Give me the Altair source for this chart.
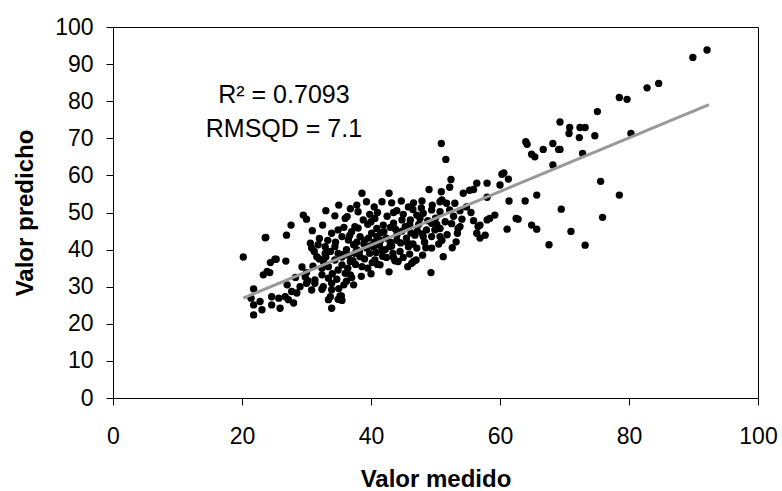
import altair as alt
import pandas as pd

measured = [
    20.2, 89.9, 92.1, 82.8, 84.6, 78.5, 79.7, 75.1, 80.3, 74.7,
    70.8, 72.4, 73.2, 70.7, 72.3, 69.3, 72.8, 69.3,
    75.6, 78.5, 69.5, 75.9, 71.0, 73.2,
    50.9, 51.6, 64.0, 64.2, 68.2, 69.1, 66.7, 64.9, 65.4, 68.2,
    60.3, 60.6, 61.3, 60.0, 58.0, 56.4, 55.9, 55.3, 52.4, 52.2, 50.9, 49.0, 54.3, 42.8, 58.0, 61.4, 63.9, 65.7,
    67.6, 64.9, 65.7, 62.8, 62.5, 61.1, 59.2, 58.4, 58.0, 55.9, 56.6, 56.4, 56.9, 57.7, 54.1, 53.8, 53.4, 53.2,
    51.2, 49.4, 49.3, 46.3, 45.7,
    51.0, 47.9, 46.6, 44.7, 43.2, 53.0, 41.7, 50.7, 51.7, 56.9, 53.5, 46.6, 45.0, 43.7, 42.4, 41.4, 40.6,
    49.4, 50.7, 48.1, 47.1, 45.8, 44.5, 42.9, 41.7, 40.4, 40.9, 42.4, 44.0, 45.5, 46.8, 48.6, 49.9, 50.7,
    49.4, 47.6, 46.1, 44.8, 43.5, 41.9, 40.6, 40.9, 49.4, 50.7, 52.2, 48.1, 47.1,
    23.6, 26.9, 27.6, 29.5, 30.0, 30.9, 32.5, 34.4, 36.0, 38.6, 39.3, 37.5, 38.8, 25.1, 24.4, 26.8,
    23.9, 23.3, 21.8, 29.3, 29.8, 30.2, 30.0, 30.6, 30.8, 31.6, 32.9, 32.4, 31.3, 32.4, 33.4, 33.9,
    35.4, 34.9, 21.4, 21.8, 21.8, 23.1, 22.8, 24.6, 25.7, 26.7, 27.2, 25.9, 24.6, 28.0, 27.7, 28.5,
    29.0, 30.8, 32.4, 33.4, 33.9, 34.7, 31.3, 33.9,
    31.8, 32.9, 33.7, 34.4, 34.4, 35.5, 36.8, 36.0, 34.9, 33.4, 33.9, 35.5, 34.9, 36.5, 37.3, 37.5,
    38.3, 39.3, 39.6, 40.1, 38.3, 37.0, 38.6, 36.8, 34.9, 32.6, 35.2, 35.5,
    36.5, 37.8, 38.9, 39.8, 40.5, 41.3, 42.0, 43.0, 43.8, 44.6, 45.3, 46.2, 47.4, 48.3, 39.0, 40.2,
    41.8, 43.4, 44.2, 37.2, 36.2, 35.5, 38.0, 39.5, 42.5, 44.0, 45.0, 46.5, 41.0, 39.8, 38.0, 36.8,
    35.0, 33.0, 50.0, 51.5, 52.5, 51.8, 52.6, 50.5, 48.0, 47.0, 42.8, 40.0, 38.5, 37.3, 36.2, 35.0,
    32.6, 33.7, 24.3, 25.3, 23.7,
    31.0, 32.0, 33.0, 35.8, 36.4, 37.6, 38.2, 39.0, 39.9, 40.8, 41.5, 42.2, 43.2, 44.0, 44.8, 45.6,
    46.5, 47.2, 48.0, 48.8, 46.0, 43.0, 41.5, 40.0, 37.8, 36.7, 35.8, 34.5, 33.3, 32.0, 31.2, 36.3,
    37.8, 40.5, 43.5, 45.8, 47.8, 49.5, 52.8, 53.8, 54.8, 55.5, 50.2, 51.0, 48.5, 46.0, 43.5, 41.0,
    39.5, 37.0, 35.8, 34.0, 30.0, 28.3, 27.0,
]
predicted = [
    38.0, 91.8, 93.8, 83.6, 84.8, 81.0, 80.5, 77.2, 71.3, 70.7,
    72.9, 72.9, 72.9, 71.3, 70.2, 74.4, 65.9, 67.0,
    58.4, 54.7, 50.9, 48.7, 44.9, 41.2,
    68.6, 64.3, 69.1, 68.4, 68.6, 67.0, 67.0, 65.7, 65.0, 62.8,
    60.3, 60.7, 59.0, 57.4, 57.9, 57.9, 56.2, 56.0, 58.9, 56.8, 55.6, 56.2, 55.2, 55.2, 54.1, 53.1, 53.1, 54.7,
    41.3, 46.6, 45.5, 48.2, 48.4, 45.5, 49.3, 48.4, 48.0, 47.8, 46.2, 44.4, 43.1, 43.9, 48.2, 46.2, 44.4, 42.1,
    38.1, 40.4, 33.8, 36.3, 35.4,
    53.4, 53.1, 52.6, 53.1, 52.6, 52.5, 52.9, 52.9, 52.5, 46.6, 45.7, 36.8, 37.9, 37.0, 37.9, 35.9, 37.2,
    43.5, 43.5, 43.5, 40.4, 40.8, 39.5, 40.8, 39.9, 40.8, 43.5, 43.1, 43.9, 43.1, 43.9, 45.3, 45.3, 45.7,
    47.1, 48.4, 48.0, 48.0, 47.1, 46.6, 48.4, 45.7, 50.7, 50.2, 50.7, 49.8, 49.3,
    43.2, 43.9, 46.6, 49.3, 48.2, 45.1, 46.6, 49.1, 48.4, 55.2, 52.9, 46.2, 48.0, 37.4, 36.5, 36.9,
    34.1, 33.2, 29.4, 35.3, 32.6, 31.6, 30.9, 41.7, 40.4, 38.1, 39.0, 35.0, 31.8, 29.3, 26.5, 24.2,
    27.5, 26.6, 26.9, 25.1, 22.4, 23.8, 26.0, 27.3, 26.9, 27.3, 26.5, 24.2, 25.1, 25.6, 28.7, 28.3,
    30.0, 29.1, 33.2, 32.3, 30.9, 32.0, 30.9, 29.2,
    41.3, 40.8, 39.5, 40.8, 37.2, 35.9, 36.8, 33.6, 34.5, 35.4, 44.4, 43.5, 45.3, 42.6, 41.3, 39.0,
    38.1, 40.4, 43.1, 44.4, 43.5, 44.8, 35.4, 33.2, 39.0, 36.8, 27.5, 26.3,
    38.5, 40.0, 41.5, 39.0, 42.0, 41.2, 44.8, 42.0, 45.5, 41.8, 46.2, 44.5, 46.8, 42.0, 37.5, 36.5,
    38.2, 39.0, 36.8, 37.0, 40.0, 38.0, 45.8, 46.8, 49.0, 50.5, 49.5, 50.8, 50.0, 49.5, 50.2, 51.0,
    52.0, 50.5, 48.5, 47.5, 47.0, 44.0, 40.5, 41.5, 38.5, 37.2, 34.0, 33.5, 32.8, 30.5, 31.5, 29.5,
    30.0, 27.3, 33.8, 37.4, 43.3,
    35.5, 37.5, 38.0, 38.8, 35.0, 36.0, 39.5, 42.5, 41.0, 39.2, 42.5, 40.0, 41.0, 42.5, 45.0, 42.0,
    41.5, 45.0, 44.2, 47.8, 46.8, 46.0, 44.5, 47.5, 42.0, 43.8, 46.0, 42.0, 42.5, 43.0, 39.5, 48.9,
    52.0, 51.5, 50.0, 51.5, 51.2, 52.0, 49.0, 50.5, 51.5, 50.0, 46.8, 42.5, 40.5, 38.8, 37.8, 36.0,
    35.0, 32.5, 30.5, 33.5, 33.8, 32.5, 30.5,
]

# Trend line end points
trend_x = [20.2, 92.4]
trend_y = [26.9, 79.1]

# Annotation
ann_x = [26.5, 26.5]
ann_y = [81.8, 72.5]
ann_text = ["R\u00b2 = 0.7093", "RMSQD = 7.1"]

pts = pd.DataFrame({"x": measured, "y": predicted})
trend = pd.DataFrame({"x": trend_x, "y": trend_y})
ann = pd.DataFrame({"x": ann_x, "y": ann_y, "t": ann_text})

FONT = "Liberation Sans"

xscale = alt.Scale(domain=[0, 100], nice=False, zero=False)
yscale = alt.Scale(domain=[0, 100], nice=False, zero=False)

xaxis = alt.Axis(
    values=[0, 20, 40, 60, 80, 100], title="Valor medido", grid=False,
    tickSize=7, labelPadding=20, labelFontSize=23, labelFont=FONT,
    labelFlush=False, labelOverlap=False,
    labelColor="black", tickColor="black", domainColor="black",
    titleFontSize=24, titleFont=FONT, titleFontWeight="bold", titleColor="black",
    titleX=322.5, titleY=88, titleBaseline="alphabetic", titleAlign="center",
)
yaxis = alt.Axis(
    values=[0, 10, 20, 30, 40, 50, 60, 70, 80, 90, 100], title="Valor predicho", grid=False,
    tickSize=7, labelPadding=13, labelFontSize=23, labelFont=FONT,
    labelFlush=False, labelOverlap=False,
    labelColor="black", tickColor="black", domainColor="black",
    titleFontSize=24, titleFont=FONT, titleFontWeight="bold", titleColor="black",
    titleAngle=-90, titleX=-81, titleY=185.5, titleBaseline="alphabetic", titleAlign="center",
)

X = alt.X("x:Q", scale=xscale, axis=xaxis)
Y = alt.Y("y:Q", scale=yscale, axis=yaxis)

points = alt.Chart(pts).mark_circle(size=54, color="black", opacity=1).encode(x=X, y=Y)

line = alt.Chart(trend).mark_line(color="#999999", strokeWidth=3).encode(x=X, y=Y)

text = alt.Chart(ann).mark_text(
    font=FONT, fontSize=25, color="black", align="center", baseline="middle"
).encode(x=X, y=Y, text="t:N")

chart = alt.layer(points, line, text).properties(
    width=645, height=371,
    autosize=alt.AutoSizeParams(type="none"),
    padding={"left": 113, "top": 27, "right": 24, "bottom": 93},
    background="white",
).configure_view(stroke="black", strokeWidth=1)

chart.save("out.html", embed_options={"renderer": "svg", "actions": False})
